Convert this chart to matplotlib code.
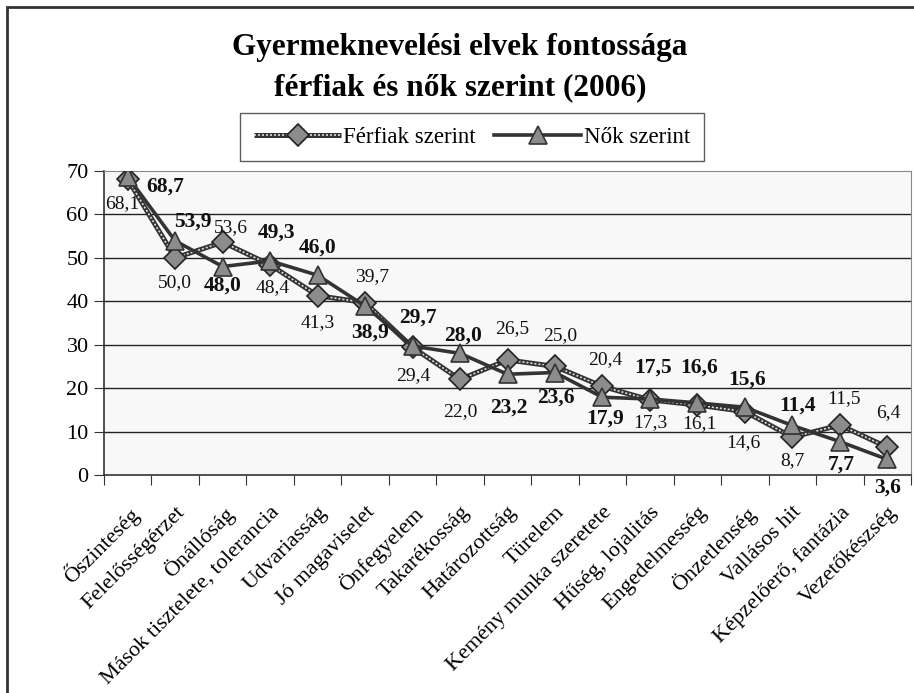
import matplotlib
matplotlib.use("Agg")
import matplotlib.pyplot as plt
from matplotlib.lines import Line2D
from matplotlib.legend_handler import HandlerTuple
from matplotlib.patches import Rectangle

plt.rcParams['font.family'] = ['Liberation Serif', 'DejaVu Serif']

categories = ["Őszinteség", "Felelősségérzet", "Önállóság", "Mások tisztelete, tolerancia",
              "Udvariasság", "Jó magaviselet", "Önfegyelem", "Takarékosság", "Határozottság",
              "Türelem", "Kemény munka szeretete", "Hűség, lojalitás", "Engedelmesség",
              "Önzetlenség", "Vallásos hit", "Képzelőerő, fantázia", "Vezetőkészség"]
ferfiak = [68.1, 50.0, 53.6, 48.4, 41.3, 39.7, 29.4, 22.0, 26.5, 25.0, 20.4, 17.3, 16.1, 14.6, 8.7, 11.5, 6.4]
nok = [68.7, 53.9, 48.0, 49.3, 46.0, 38.9, 29.7, 28.0, 23.2, 23.6, 17.9, 17.5, 16.6, 15.6, 11.4, 7.7, 3.6]
yticks = [0, 10, 20, 30, 40, 50, 60, 70]

# label offsets in pixels (dx, dy screen-down)
f_off = [(-5, 24), (0, 25), (8, -15), (3, 23), (0, 27), (7, -26), (1, 28), (0, 32), (5, -31),
         (5, -31), (3, -27), (0, 23), (2, 19), (-2, 31), (0, 23), (4, -26), (1, -35)]
n_off = [(37, 10), (18, -19), (0, 19), (6, -28), (0, -28), (5, 27), (5, -28), (3, -18), (1, 33),
         (1, 25), (3, 21), (3, -31), (2, -35), (2, -28), (5, -20), (1, 23), (0, 28)]

W, H = 914, 693
fig = plt.figure(figsize=(W / 100, H / 100), dpi=100)
fig.patch.set_facecolor('white')

# outer frame (top and left visible)
fig.add_artist(Rectangle((7 / W, -0.1), 1.2, 1 - 7 / H + 0.1, transform=fig.transFigure,
                         fill=False, edgecolor='#333333', linewidth=2.0))

ax = fig.add_axes([104 / W, 1 - 475 / H, (911 - 104) / W, (475 - 171) / H])
ax.set_facecolor('#f8f8f8')
x = list(range(len(categories)))

ax.set_xlim(-0.5, len(categories) - 0.5)
ax.set_ylim(0, 70)
ax.set_yticks(yticks)
ax.set_yticklabels([str(t) for t in yticks], fontsize=16)
for t in yticks[1:-1]:
    ax.axhline(t, color='#222222', linewidth=1.0, zorder=1)

ax.set_xticks([i - 0.5 for i in range(len(categories) + 1)], minor=False)
ax.set_xticklabels([])
ax.set_xticks(x, minor=True)
ax.set_xticklabels(categories, minor=True, rotation=45, ha='right', va='top',
                   rotation_mode='anchor', fontsize=16)
ax.tick_params(axis='x', which='minor', length=0, pad=20)
ax.tick_params(axis='x', which='major', length=7, direction='out', color='#333333')
ax.tick_params(axis='y', length=7, direction='out', color='#333333', pad=4)

for s in ['top', 'right']:
    ax.spines[s].set_color('#888888')
for s in ['left', 'bottom']:
    ax.spines[s].set_color('#333333')
    ax.spines[s].set_linewidth(1.2)

FL = dict(color='#333333', linewidth=3.6, solid_capstyle='butt')
FD = dict(color='#dddddd', linewidth=1.2, linestyle=(0, (1.2, 1.2)))
FM = dict(linestyle='none', marker='D', markersize=11, markerfacecolor='#8c8c8c',
          markeredgecolor='#222222', markeredgewidth=1.2)
NL = dict(color='#333333', linewidth=2.6)
NM = dict(linestyle='none', marker='^', markersize=13, markerfacecolor='#8c8c8c',
          markeredgecolor='#333333', markeredgewidth=1.2)

# Férfiak series
ax.plot(x, ferfiak, zorder=3, **FL)
ax.plot(x, ferfiak, zorder=3.1, **FD)
ax.plot(x, ferfiak, zorder=4, **FM)
# Nők series
ax.plot(x, nok, zorder=5, **NL)
ax.plot(x, nok, zorder=6, **NM)

for i, v in enumerate(ferfiak):
    dx, dy = f_off[i]
    ax.annotate(f"{v:.1f}".replace('.', ','), (x[i], v), xytext=(dx, -dy), textcoords='offset pixels',
                ha='center', va='center', fontsize=14, color='#111111', zorder=8,
                annotation_clip=False)
for i, v in enumerate(nok):
    dx, dy = n_off[i]
    ax.annotate(f"{v:.1f}".replace('.', ','), (x[i], v), xytext=(dx, -dy), textcoords='offset pixels',
                ha='center', va='center', fontsize=15.5, fontweight='bold', color='#111111', zorder=8,
                annotation_clip=False)

fig.text(460 / W, 1 - 47 / H, "Gyermeknevelési elvek fontossága", ha='center', va='center',
         fontsize=22.5, fontweight='bold')
fig.text(460 / W, 1 - 88 / H, "férfiak és nők szerint (2006)", ha='center', va='center',
         fontsize=22.5, fontweight='bold')

h_f = (Line2D([], [], **FL), Line2D([], [], **FD), Line2D([], [], **FM))
h_n = (Line2D([], [], **NL), Line2D([], [], **NM))
leg = fig.legend([h_f, h_n], ["Férfiak szerint", "Nők szerint"], loc='center',
                 bbox_to_anchor=(472 / W, 1 - 137 / H), ncol=2, fontsize=16.5, frameon=True,
                 fancybox=False, edgecolor='#333333', handlelength=3.8, handletextpad=0.1,
                 columnspacing=0.8, borderpad=0.6, borderaxespad=0,
                 handler_map={tuple: HandlerTuple(ndivide=1)})
leg.get_frame().set_linewidth(1.0)

fig.savefig("out.png", dpi=100)
